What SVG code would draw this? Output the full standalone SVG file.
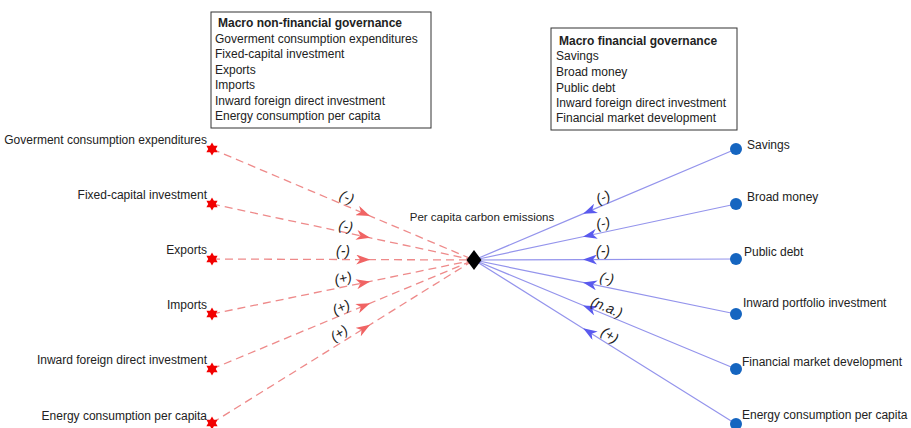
<svg xmlns="http://www.w3.org/2000/svg" width="911" height="428" viewBox="0 0 911 428">
<style>
text{font-family:"Liberation Sans",Arial,sans-serif;font-size:12px;fill:#222}
.b{font-weight:bold}
.lbl{font-style:italic;font-size:14px;text-anchor:middle}
.r{text-anchor:end}
.box{fill:#fff;stroke:#333;stroke-width:1}
.red{fill:none;stroke:#ee8a8a;stroke-width:1.3;stroke-dasharray:8 5;marker-mid:url(#ar)}
.blue{fill:none;stroke:#9494ec;stroke-width:1.2;marker-mid:url(#ab)}
.star{fill:#f20000}
.dot{fill:#1565c0}
</style>
<defs>
<marker id="ar" viewBox="0 0 14 10" refX="13" refY="5" markerWidth="14" markerHeight="10" markerUnits="userSpaceOnUse" orient="auto"><path d="M0,0 L14,5 L0,10 L4,5 Z" fill="#f06464"/></marker>
<marker id="ab" viewBox="0 0 14 10" refX="13" refY="5" markerWidth="14" markerHeight="10" markerUnits="userSpaceOnUse" orient="auto"><path d="M0,0 L14,5 L0,10 L4,5 Z" fill="#5a5aee"/></marker>
<polygon id="st" points="0,-6.5 1.9,-3.3 5.6,-3.25 3.8,0 5.6,3.25 1.9,3.3 0,6.5 -1.9,3.3 -5.6,3.25 -3.8,0 -5.6,-3.25 -1.9,-3.3"/>
</defs>

<g id="box-nonfinancial">
<rect class="box" x="211" y="12" width="220" height="116"/>
<text class="b" x="218" y="27">Macro non-financial governance</text>
<text x="215" y="43">Goverment consumption expenditures</text>
<text x="215" y="58">Fixed-capital investment</text>
<text x="215" y="74">Exports</text>
<text x="215" y="89">Imports</text>
<text x="215" y="105">Inward foreign direct investment</text>
<text x="215" y="120">Energy consumption per capita</text>
</g>

<g id="box-financial">
<rect class="box" x="551" y="28" width="186" height="102"/>
<text class="b" x="559" y="45">Macro financial governance</text>
<text x="556" y="60">Savings</text>
<text x="556" y="76">Broad money</text>
<text x="556" y="92">Public debt</text>
<text x="556" y="107">Inward foreign direct investment</text>
<text x="556" y="122">Financial market development</text>
</g>

<g id="connectors">
<path class="red" d="M212,149 L369.2,215.6 L474,260"/>
<path class="red" d="M212,204 L369.2,237.6 L474,260"/>
<path class="red" d="M212,259 L369.2,259.6 L474,260"/>
<path class="red" d="M212,314 L369.2,281.6 L474,260"/>
<path class="red" d="M212,369 L369.2,303.6 L474,260"/>
<path class="red" d="M212,423 L369.2,325.2 L474,260"/>
<path class="blue" d="M736,149 L584,213.4 L474,260"/>
<path class="blue" d="M736,204 L584,236.5 L474,260"/>
<path class="blue" d="M736,259 L584,259.6 L474,260"/>
<path class="blue" d="M736,314 L584,282.7 L474,260"/>
<path class="blue" d="M736,369 L584,305.8 L474,260"/>
<path class="blue" d="M736,424 L584,328.9 L474,260"/>
<text class="lbl" x="347" y="202" transform="rotate(23 347 197)">(-)</text>
<text class="lbl" x="346" y="231" transform="rotate(12 346 226)">(-)</text>
<text class="lbl" x="343" y="256">(-)</text>
<text class="lbl" x="343" y="283" transform="rotate(-12 343 278)">(+)</text>
<text class="lbl" x="341" y="312" transform="rotate(-23 341 307)">(+)</text>
<text class="lbl" x="339" y="338" transform="rotate(-32 339 333)">(+)</text>
<text class="lbl" x="603" y="202" transform="rotate(-23 603 197)">(-)</text>
<text class="lbl" x="603" y="228" transform="rotate(-12 603 223)">(-)</text>
<text class="lbl" x="603" y="256">(-)</text>
<text class="lbl" x="607" y="283" transform="rotate(12 607 278)">(-)</text>
<text class="lbl" x="607" y="312" transform="rotate(23 607 307)">(n.a.)</text>
<text class="lbl" x="610" y="340" transform="rotate(32 610 335)">(+)</text>
</g>

<g id="center">
<polygon points="474,250 481.5,260 474,270 466.5,260" fill="#000"/>
<text x="482" y="221" style="font-size:11.5px;text-anchor:middle">Per capita carbon emissions</text>
</g>

<g id="n-gov"><use href="#st" class="star" x="212" y="149"/><text class="r" x="207" y="144">Goverment consumption expenditures</text></g>
<g id="n-fixed"><use href="#st" class="star" x="212" y="204"/><text class="r" x="207" y="199">Fixed-capital investment</text></g>
<g id="n-exports"><use href="#st" class="star" x="212" y="259"/><text class="r" x="207" y="254">Exports</text></g>
<g id="n-imports"><use href="#st" class="star" x="212" y="314"/><text class="r" x="207" y="309">Imports</text></g>
<g id="n-ifdi"><use href="#st" class="star" x="212" y="369"/><text class="r" x="207" y="364">Inward foreign direct investment</text></g>
<g id="n-energy-l"><use href="#st" class="star" x="212" y="423"/><text class="r" x="207" y="420">Energy consumption per capita</text></g>

<g id="n-savings"><circle class="dot" cx="736" cy="149" r="6"/><text x="747" y="149">Savings</text></g>
<g id="n-broad"><circle class="dot" cx="736" cy="204" r="6"/><text x="747" y="201">Broad money</text></g>
<g id="n-debt"><circle class="dot" cx="736" cy="259" r="6"/><text x="744" y="256">Public debt</text></g>
<g id="n-portfolio"><circle class="dot" cx="736" cy="314" r="6"/><text x="743" y="307">Inward portfolio investment</text></g>
<g id="n-fmd"><circle class="dot" cx="736" cy="369" r="6"/><text x="742" y="366">Financial market development</text></g>
<g id="n-energy-r"><circle class="dot" cx="736" cy="424" r="6"/><text x="742" y="419">Energy consumption per capita</text></g>
</svg>
